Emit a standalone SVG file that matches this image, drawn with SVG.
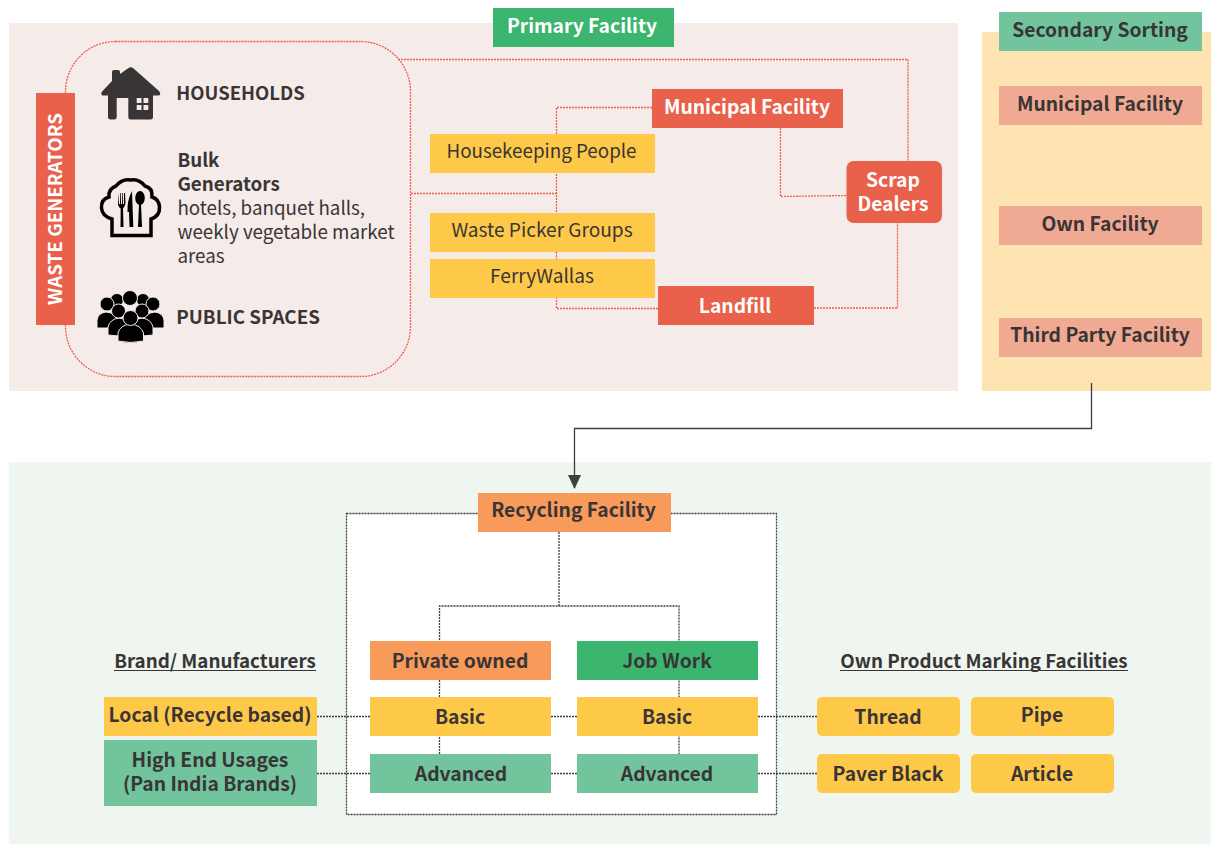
<svg xmlns="http://www.w3.org/2000/svg" width="1211" height="844" viewBox="0 0 1211 844">
<style>
text{font-family:"Noto Sans CJK SC","Noto Sans",sans-serif;fill:#393536;font-size:18.800px;font-weight:400;text-anchor:middle}
.b{font-weight:700;font-size:19.300px}
.w{fill:#fff;font-weight:700;font-size:19.300px}
.h{font-weight:700}
.r{font-size:19.100px}
.l{text-anchor:start}
.red{fill:#e9604b}.yel{fill:#fec949}.grn{fill:#3cb56f}.lg{fill:#72c49c}.org{fill:#f79a5a}.sal{fill:#f0a992}
.rd{fill:none;stroke:#e9604b;stroke-width:1.300;stroke-dasharray:2 1}
.gd{fill:none;stroke:#3f3f3f;stroke-width:1.300;stroke-dasharray:2 1}
.ul{stroke:#393536;stroke-width:1;fill:none}
.pp{fill:#000;stroke:#f5ebe8;stroke-width:1}
</style>
<defs><marker id="ah" markerUnits="userSpaceOnUse" markerWidth="14" markerHeight="14" refX="13" refY="7" orient="auto"><path d="M0,0.5L14,7L0,13.5Z" fill="#3f3f3f"/></marker></defs>
<g id="backgrounds">
<rect x="9" y="23" width="949" height="368" fill="#f5ebe8"/>
<rect x="982" y="32" width="229" height="359" fill="#fde4b0"/>
<rect x="9" y="462" width="1202" height="382" fill="#eff6f0"/>
</g>
<g id="recycling-frame"><rect x="346.500" y="513.500" width="430" height="301" fill="#fff" stroke="#3f3f3f" stroke-width="1.300" stroke-dasharray="2 1"/></g>
<g id="connectors">
<rect class="rd" x="65.500" y="41.500" width="345" height="335" rx="50" ry="50"/>
<path class="rd" d="M398,59.500H908V161"/>
<path class="rd" d="M411,193.500H556.500"/>
<path class="rd" d="M652,107.500H556.500V308.500H658"/>
<path class="rd" d="M780.500,128V196.500L847,195.500"/>
<path class="rd" d="M814,308H897.500V223"/>
<path d="M1091.500,383V428.500H574.500V488" fill="none" stroke="#3f3f3f" stroke-width="1.300" marker-end="url(#ah)"/>
<path class="gd" d="M559,532V607"/>
<path class="gd" d="M439.500,754V606H679V754"/>
<path class="gd" d="M317,716.500H370M551,716.500H577M758,716.500H817"/>
<path class="gd" d="M317,773.500H370M551,773.500H577M758,773.500H817"/>
</g>
<g id="waste-generators"><rect class="red" x="36" y="93" width="39" height="232"/><text transform="translate(62,209) rotate(-90)" style="fill:#fff;font-weight:700">WASTE GENERATORS</text></g>
<g id="households">
<path fill="#393536" fill-rule="evenodd" d="M112,81V72Q112,70 114,70H118Q120,70 120,72V74L128.500,68Q130.700,66.500 133,68L159,91Q161.500,94 159,95.500H153V117Q153,119.500 150.500,119.500H130.500Q128.300,119.500 128.300,117V98H116.700V117Q116.700,119.500 114,119.500H110.500Q108,119.500 108,117V95.500H102.500Q100,94 102.500,91ZM136.700,98V103H141.500V98ZM143.500,98V103H148.300V98ZM136.700,105V110H141.500V105ZM143.500,105V110H148.300V105Z"/>
<text class="h l" x="176.300" y="100" style="font-size:18.500px">HOUSEHOLDS</text>
</g>
<g id="bulk-generators">
<path fill="none" stroke="#000" stroke-width="3.500" d="M112,235.500H151V219Q160,216 159.500,207Q159,199 152,197Q153,188 145,186Q139,178.500 130.500,180Q122,178.500 116,186Q108,189 109,197Q101,199 101.500,208Q102,216 112,219Z"/>
<path d="M118,193L119,204H120V193H120.700L121,204H122V193H122.700L123,204H124V193H125L125.500,203Q125,207 123,208.500L123.500,227H120.500L120.700,208.500Q118,207 118,203Z"/>
<path d="M132,191L133.300,227H129.500L129,212H127.500Q127,200 132,191Z"/>
<ellipse cx="140" cy="198" rx="4.800" ry="7"/>
<path d="M139,204H141L142,227H138Z"/>
<text class="h l" x="177.400" y="167">Bulk</text>
<text class="h l" x="177.400" y="191">Generators</text>
<text class="l" x="177.400" y="215">hotels, banquet halls,</text>
<text class="l" x="177.400" y="239">weekly vegetable market</text>
<text class="l" x="177.400" y="263">areas</text>
</g>
<g id="public-spaces">
<circle class="pp" cx="117" cy="300" r="6.500"/><circle class="pp" cx="143" cy="300" r="6.500"/><circle class="pp" cx="130" cy="298" r="7.500"/>
<path class="pp" d="M97,328V320Q98,313 106,312Q116,313 118,321V328Z"/><path class="pp" d="M164,328V320Q163,313 155,312Q145,313 143,321V328Z"/>
<circle class="pp" cx="153" cy="304" r="7"/><circle class="pp" cx="107" cy="304" r="7"/>
<path class="pp" d="M108,335V327Q110,319 119,318Q128,319 130,327V337Z"/><path class="pp" d="M153,335V327Q151,319 142,318Q133,319 131,327V337Z"/>
<circle class="pp" cx="118.500" cy="311" r="7"/><circle class="pp" cx="142" cy="311" r="7"/>
<path class="pp" d="M118,341V333Q120,325 130.500,324Q141,325 143.500,333V341Q130.500,344 118,341Z"/>
<circle class="pp" cx="130.500" cy="318" r="7.500"/>
<text class="h l" x="176.300" y="324" style="font-size:18.800px">PUBLIC SPACES</text>
</g>
<g id="primary-facility"><rect class="grn" x="493" y="8" width="181" height="39"/><text class="w" x="582" y="33">Primary Facility</text></g>
<g id="municipal-facility"><rect class="red" x="652" y="89" width="191" height="39"/><text class="w" x="747" y="114">Municipal Facility</text></g>
<g id="housekeeping"><rect class="yel" x="430" y="134" width="225" height="39"/><text x="541.500" y="158">Housekeeping People</text></g>
<g id="waste-picker"><rect class="yel" x="430" y="213" width="225" height="39"/><text class="r" x="542" y="237">Waste Picker Groups</text></g>
<g id="ferrywallas"><rect class="yel" x="430" y="259" width="225" height="39"/><text class="r" x="542" y="283">FerryWallas</text></g>
<g id="landfill"><rect class="red" x="658" y="286" width="156" height="39"/><text class="w" x="735" y="313">Landfill</text></g>
<g id="scrap-dealers"><rect class="red" x="846.500" y="161" width="95.500" height="62" rx="7"/><text class="w" x="893" y="187">Scrap</text><text class="w" x="893" y="211">Dealers</text></g>
<g id="secondary-sorting"><rect class="lg" x="999" y="12" width="203" height="39"/><text class="b" x="1100" y="37">Secondary Sorting</text></g>
<g id="sec-municipal"><rect class="sal" x="999" y="86" width="203" height="39"/><text class="b" x="1100" y="111">Municipal Facility</text></g>
<g id="sec-own"><rect class="sal" x="999" y="206" width="203" height="39"/><text class="b" x="1100" y="231">Own Facility</text></g>
<g id="sec-third"><rect class="sal" x="999" y="318" width="203" height="39"/><text class="b" x="1100" y="342">Third Party Facility</text></g>
<g id="recycling-facility"><rect class="org" x="478" y="493" width="193" height="39"/><text class="b" x="573.500" y="517">Recycling Facility</text></g>
<g id="private-owned"><rect class="org" x="370" y="641" width="181" height="39"/><text class="b" x="460" y="668">Private owned</text></g>
<g id="job-work"><rect class="grn" x="577" y="641" width="181" height="39"/><text class="b" x="667" y="668">Job Work</text></g>
<g id="basic-1"><rect class="yel" x="370" y="697" width="181" height="39"/><text class="b" x="460" y="724">Basic</text></g>
<g id="basic-2"><rect class="yel" x="577" y="697" width="181" height="39"/><text class="b" x="667" y="724">Basic</text></g>
<g id="advanced-1"><rect class="lg" x="370" y="754" width="181" height="39"/><text class="b" x="461" y="781">Advanced</text></g>
<g id="advanced-2"><rect class="lg" x="577" y="754" width="181" height="39"/><text class="b" x="667" y="781">Advanced</text></g>
<g id="brand-header"><text class="h" x="215" y="668">Brand/ Manufacturers</text><path class="ul" d="M114,670.500H316"/></g>
<g id="own-header"><text class="h" x="984" y="668">Own Product Marking Facilities</text><path class="ul" d="M840,670.500H1128"/></g>
<g id="local"><rect class="yel" x="104" y="697" width="213" height="39"/><text class="b" x="210" y="722">Local (Recycle based)</text></g>
<g id="high-end"><rect class="lg" x="104" y="740" width="213" height="66"/><text class="b" x="210" y="767">High End Usages</text><text class="b" x="210" y="791">(Pan India Brands)</text></g>
<g id="thread"><rect class="yel" x="817" y="697" width="143" height="39" rx="5"/><text class="b" x="888" y="724">Thread</text></g>
<g id="pipe"><rect class="yel" x="971" y="697" width="143" height="39" rx="5"/><text class="b" x="1042" y="722">Pipe</text></g>
<g id="paver-black"><rect class="yel" x="817" y="754" width="143" height="39" rx="5"/><text class="b" x="888" y="781">Paver Black</text></g>
<g id="article"><rect class="yel" x="971" y="754" width="143" height="39" rx="5"/><text class="b" x="1042" y="781">Article</text></g>
</svg>
